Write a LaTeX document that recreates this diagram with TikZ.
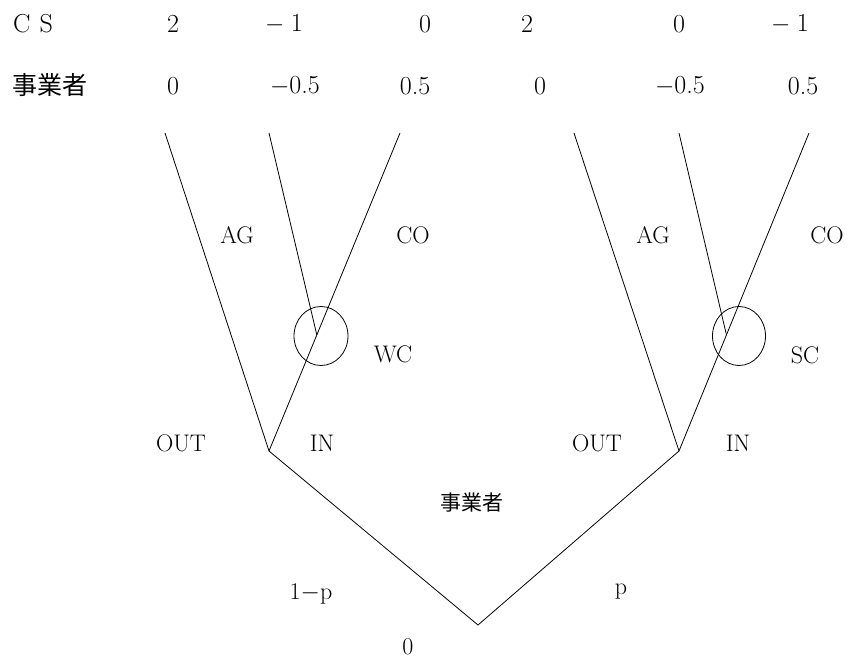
\documentclass[tikz,border=0pt]{standalone}
\usepackage{fontspec}
\newfontfamily\jfont{Noto Sans CJK JP}
\usetikzlibrary{calc}

\begin{document}
\begin{tikzpicture}[x=1pt, y=-1pt, font=\fontsize{24}{28}\selectfont,
  branch/.style={line width=0.8pt},
  lbl/.style={inner sep=0pt},
  pay/.style={inner sep=0pt, font=\fontsize{26}{30}\selectfont}]
  \useasboundingbox (0,0) rectangle (849,660);

  % Payoff rows
  \node[pay] (cs) at (33,24) {C\hspace{0.35em}S};
  \node[lbl] (jg) at (50,85) {\jfont\fontsize{25}{28}\selectfont 事業者};
  \foreach \x/\v [count=\i] in {173/2, 284/{$-$\hspace{0.25em}1}, 425/0, 527/2, 679/0, 790/{$-$\hspace{0.25em}1}}
    \node[pay] (cs\i) at (\x,24) {\v};
  \foreach \x/\v [count=\i] in {173/0, 295/{$-$0.5}, 415/0.5, 540/0, 680/{$-$0.5}, 803/0.5}
    \node[pay] (jg\i) at (\x,86) {\v};

  % Tree points
  \coordinate (root) at (478,625);
  \coordinate (wl) at (269,451);
  \coordinate (wr) at (679,451);
  \coordinate (tl1) at (165,133);
  \coordinate (tl2) at (269,133);
  \coordinate (tl3) at (400,133);
  \coordinate (tr1) at (574,133);
  \coordinate (tr2) at (679,133);
  \coordinate (tr3) at (809,133);
  \coordinate (wk) at ($(wl)!0.365!(tl3)$);
  \coordinate (sk) at ($(wr)!0.365!(tr3)$);

  % Branches
  \draw[branch] (tl1) -- (wl) -- (root) -- (wr) -- (tr1);
  \draw[branch] (wl) -- (tl3);
  \draw[branch] (wr) -- (tr3);
  \draw[branch] (tl2) -- (wk);
  \draw[branch] (tr2) -- (sk);

  % Information sets
  \draw[branch] (321,336) ellipse (27 and 29.5);
  \draw[branch] (739,336) ellipse (26.5 and 29.5);

  % Labels
  \node[lbl] (ag1) at (237,235) {AG};
  \node[lbl] (co1) at (413,235) {CO};
  \node[lbl] (ag2) at (653,235) {AG};
  \node[lbl] (co2) at (827,235) {CO};
  \node[lbl] (wc) at (393,354) {WC};
  \node[lbl] (sc) at (805,355) {SC};
  \node[lbl] (out1) at (181,443) {OUT};
  \node[lbl] (in1) at (322,443) {IN};
  \node[lbl] (out2) at (597,443) {OUT};
  \node[lbl] (in2) at (738,443) {IN};
  \node[lbl] (firm) at (472,503) {\jfont\fontsize{21}{24}\selectfont 事業者};
  \node[lbl] (q) at (311,594) {1$-$p};
  \node[lbl] (p) at (621,592) {p};
  \node[lbl] (zero) at (408,647) {0};
\end{tikzpicture}
\end{document}
